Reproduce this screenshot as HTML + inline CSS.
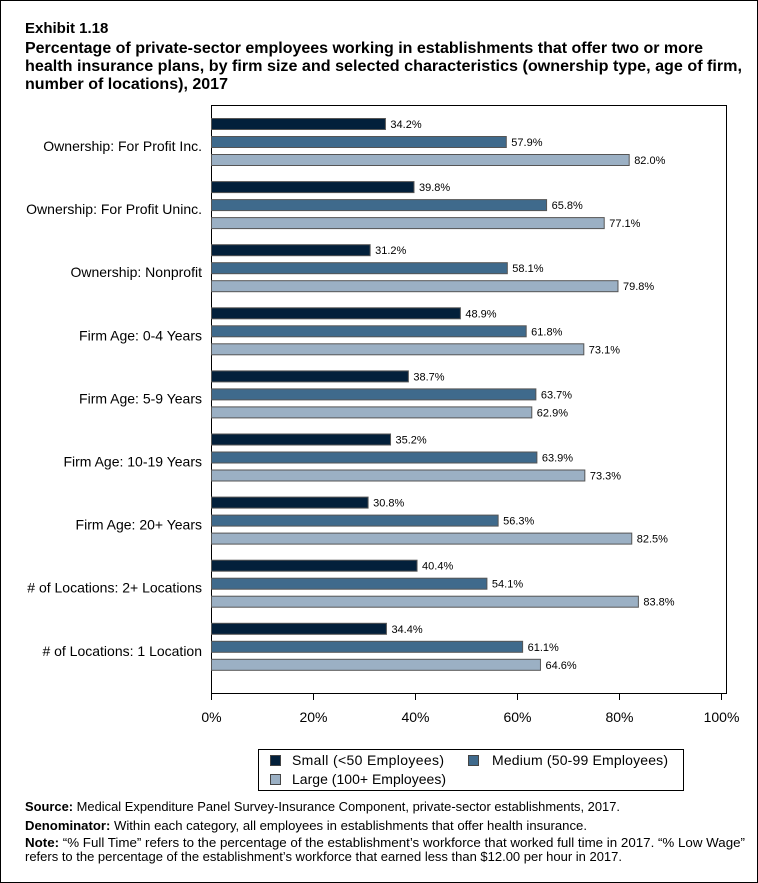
<!DOCTYPE html>
<html><head><meta charset="utf-8"><style>
html,body{margin:0;padding:0;background:#fff}
svg{display:block}
text{font-family:"Liberation Sans",Arial,sans-serif}
</style></head><body>
<svg id="chart" width="758" height="883" viewBox="0 0 758 883" xmlns="http://www.w3.org/2000/svg">
<rect x="0.5" y="0.5" width="757" height="882" fill="#fff" stroke="#000"/>
<g>
<text x="25" y="33" font-size="15" font-weight="bold">Exhibit 1.18</text>
<text font-size="15.5" font-weight="bold"><tspan x="25" y="53" textLength="678" lengthAdjust="spacingAndGlyphs">Percentage of private-sector employees working in establishments that offer two or more</tspan><tspan x="25" y="71" textLength="717" lengthAdjust="spacingAndGlyphs">health insurance plans, by firm size and selected characteristics (ownership type, age of firm,</tspan><tspan x="25" y="89" textLength="203" lengthAdjust="spacingAndGlyphs">number of locations), 2017</tspan></text>
</g>
<rect x="211.5" y="105.5" width="515" height="588" fill="#fff" stroke="#000"/>
<g id="bars"></g>
<g id="axis"></g>
<g>
<rect x="258.5" y="749.5" width="425" height="41" fill="#fff" stroke="#000"/>
<g><rect x="270.5" y="755.5" width="10" height="10" fill="#03203b" stroke="#444"/><text x="292" y="765" font-size="14" textLength="152">Small (&lt;50 Employees)</text></g>
<g><rect x="468.5" y="755.5" width="10" height="10" fill="#3f6a8c" stroke="#444"/><text x="492" y="765" font-size="14" textLength="176">Medium (50-99 Employees)</text></g>
<g><rect x="270.5" y="774.5" width="10" height="10" fill="#9bb0c4" stroke="#444"/><text x="292" y="784" font-size="14" textLength="154">Large (100+ Employees)</text></g>
</g>
<g font-size="13">
<text x="25" y="811" textLength="595" lengthAdjust="spacingAndGlyphs"><tspan font-weight="bold">Source:</tspan> Medical Expenditure Panel Survey-Insurance Component, private-sector establishments, 2017.</text>
<text x="25" y="830" textLength="562" lengthAdjust="spacingAndGlyphs"><tspan font-weight="bold">Denominator:</tspan> Within each category, all employees in establishments that offer health insurance.</text>
<text x="25" y="847" textLength="720" lengthAdjust="spacingAndGlyphs"><tspan font-weight="bold">Note:</tspan> “% Full Time” refers to the percentage of the establishment’s workforce that worked full time in 2017. “% Low Wage”</text>
<text x="25" y="861" textLength="597" lengthAdjust="spacingAndGlyphs">refers to the percentage of the establishment’s workforce that earned less than $12.00 per hour in 2017.</text>
</g>
</svg>
<script>
const categories = ["Ownership: For Profit Inc.","Ownership: For Profit Uninc.","Ownership: Nonprofit","Firm Age: 0-4 Years","Firm Age: 5-9 Years","Firm Age: 10-19 Years","Firm Age: 20+ Years","# of Locations: 2+ Locations","# of Locations: 1 Location"];
const smallValues = [34.2,39.8,31.2,48.9,38.7,35.2,30.8,40.4,34.4];
const mediumValues = [57.9,65.8,58.1,61.8,63.7,63.9,56.3,54.1,61.1];
const largeValues = [82.0,77.1,79.8,73.1,62.9,73.3,82.5,83.8,64.6];
const tickValues = [0,20,40,60,80,100];
const tickLabels = ["0%","20%","40%","60%","80%","100%"];

const NS="http://www.w3.org/2000/svg";
function xScale(v){return 211+v*5.1;}
function groupY(i){return 118+i*63.1;}
const series=[{vals:smallValues,fill:"#03203b",name:"small",off:0},{vals:mediumValues,fill:"#3f6a8c",name:"medium",off:18},{vals:largeValues,fill:"#9bb0c4",name:"large",off:36}];
const bars=document.getElementById('bars');
function mk(tag,attrs){const e=document.createElementNS(NS,tag);for(const k in attrs)e.setAttribute(k,attrs[k]);return e;}
categories.forEach((c,i)=>{
  const gy=groupY(i);
  const lab=mk('text',{x:202,y:gy+33,'font-size':14,'text-anchor':'end'});
  
  
  lab.textContent=c;bars.appendChild(lab);
  series.forEach(s=>{
    const v=s.vals[i];const y=gy+s.off;
    const r=mk('rect',{x:211.5,y:y+0.5,width:Math.max(0,xScale(v)-211.5),height:11,fill:s.fill,stroke:'#555','stroke-width':1});
    
    
    bars.appendChild(r);
    const t=mk('text',{x:xScale(v)+5,y:y+10,'font-size':11});
    
    
    t.textContent=v.toFixed(1)+'%';bars.appendChild(t);
  });
});
const axis=document.getElementById('axis');
tickValues.forEach((v,i)=>{
  const x=Math.round(xScale(v))+0.5;
  const l=mk('line',{x1:x,x2:x,y1:693,y2:700,stroke:'#000'});
  
  
  axis.appendChild(l);
  const t=mk('text',{x:x,y:722,'font-size':14,'text-anchor':'middle'});
  
  
  t.textContent=tickLabels[i];axis.appendChild(t);
});
</script>
</body></html>
